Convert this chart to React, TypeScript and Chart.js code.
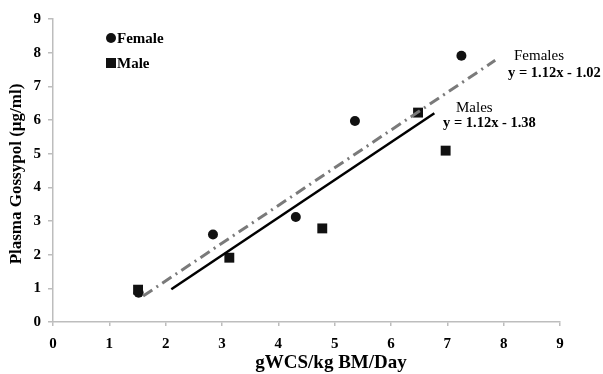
import React, { useEffect, useRef } from "react";
import { Chart, registerables } from "chart.js";

Chart.register(...registerables);

// Data
const femaleX = [1.52, 2.84, 4.31, 5.36, 7.25];
const femaleY = [0.87, 2.6, 3.12, 5.97, 7.91];
const maleX = [1.51, 3.13, 4.78, 6.48, 6.97];
const maleY = [0.96, 1.91, 2.78, 6.22, 5.09];

// Regression lines (from the chart's equations) and their x-extent
const femaleFit = [1.12, -1.02]; // slope, intercept
const maleFit = [1.12, -1.38];
const femaleFitRange = [1.6, 7.85];
const maleFitRange = [2.1, 6.77];

const xTicks = [0, 1, 2, 3, 4, 5, 6, 7, 8, 9];
const yTicks = [0, 1, 2, 3, 4, 5, 6, 7, 8, 9];

const SERIF = "'Liberation Serif', 'Times New Roman', serif";

const fitPoints = (fit: number[], range: number[]) =>
  range.map((x) => ({ x, y: fit[0] * x + fit[1] }));

const annotationPlugin = {
  id: "annotations",
  afterDraw(chart: any) {
    const { ctx } = chart;
    ctx.save();
    ctx.fillStyle = "#000";
    ctx.textBaseline = "middle";
    ctx.textAlign = "left";

    // Legend
    const legendItems = [
      { label: chart.data.datasets[3].label, style: "circle", y: 38 },
      { label: chart.data.datasets[2].label, style: "rect", y: 63 },
    ];
    legendItems.forEach((it) => {
      ctx.fillStyle = "#111";
      if (it.style === "circle") {
        ctx.beginPath();
        ctx.arc(111, it.y, 5, 0, Math.PI * 2);
        ctx.fill();
      } else {
        ctx.fillRect(106, it.y - 5, 10, 10);
      }
      ctx.fillStyle = "#000";
      ctx.font = `bold 15px ${SERIF}`;
      ctx.fillText(it.label, 117, it.y + 1);
    });

    // Equation labels
    ctx.font = `15px ${SERIF}`;
    ctx.fillText("Females", 514, 56);
    ctx.fillText("Males", 456, 108);
    ctx.font = `bold 14.5px ${SERIF}`;
    ctx.fillText(
      `y = ${femaleFit[0].toFixed(2)}x - ${Math.abs(femaleFit[1]).toFixed(2)}`,
      508,
      73
    );
    ctx.fillText(
      `y = ${maleFit[0].toFixed(2)}x - ${Math.abs(maleFit[1]).toFixed(2)}`,
      443,
      123
    );

    // Axis titles
    ctx.font = `bold 19px ${SERIF}`;
    ctx.textAlign = "center";
    ctx.fillText("gWCS/kg BM/Day", 331, 363);
    ctx.save();
    ctx.translate(17, 174);
    ctx.rotate(-Math.PI / 2);
    ctx.font = `bold 17px ${SERIF}`;
    ctx.fillText("Plasma Gossypol (µg/ml)", 0, 0);
    ctx.restore();

    ctx.restore();
  },
};

export default function App() {
  const canvasRef = useRef<HTMLCanvasElement | null>(null);

  useEffect(() => {
    document.body.style.margin = "0";
    const canvas = canvasRef.current;
    if (!canvas) return;

    const chart = new Chart(canvas, {
      type: "scatter",
      data: {
        datasets: [
          {
            type: "line",
            label: "Males fit",
            data: fitPoints(maleFit, maleFitRange),
            borderColor: "#000",
            borderWidth: 2.5,
            pointRadius: 0,
            fill: false,
          },
          {
            type: "line",
            label: "Females fit",
            data: fitPoints(femaleFit, femaleFitRange),
            borderColor: "#7a7a7a",
            borderWidth: 3,
            borderDash: [11, 5, 2, 5],
            pointRadius: 0,
            fill: false,
          },
          {
            label: "Male",
            data: maleX.map((x, i) => ({ x, y: maleY[i] })),
            pointStyle: "rect",
            pointRadius: 7,
            backgroundColor: "#111",
            borderColor: "#111",
            borderWidth: 0,
          },
          {
            label: "Female",
            data: femaleX.map((x, i) => ({ x, y: femaleY[i] })),
            pointStyle: "circle",
            pointRadius: 5,
            backgroundColor: "#111",
            borderColor: "#111",
            borderWidth: 0,
          },
        ],
      },
      options: {
        animation: false,
        responsive: false,
        maintainAspectRatio: false,
        layout: { padding: { top: 19, right: 43, left: 0, bottom: 0 } },
        plugins: {
          legend: { display: false },
          tooltip: { enabled: false },
        },
        scales: {
          x: {
            type: "linear",
            min: xTicks[0],
            max: xTicks[xTicks.length - 1],
            afterBuildTicks: (s: any) => {
              s.ticks = xTicks.map((v) => ({ value: v }));
            },
            afterFit: (s: any) => {
              s.height = 52;
            },
            grid: {
              drawOnChartArea: false,
              drawTicks: true,
              tickLength: 4,
              color: "#bdbdbd",
              lineWidth: 1.5,
            },
            border: { color: "#bdbdbd", width: 1.5 },
            ticks: {
              color: "#000",
              padding: 9,
              maxRotation: 0,
              font: { family: SERIF, size: 15, weight: "bold" },
            },
          },
          y: {
            type: "linear",
            min: yTicks[0],
            max: yTicks[yTicks.length - 1],
            afterBuildTicks: (s: any) => {
              s.ticks = yTicks.map((v) => ({ value: v }));
            },
            afterFit: (s: any) => {
              s.width = 53;
            },
            grid: {
              drawOnChartArea: false,
              drawTicks: true,
              tickLength: 5,
              color: "#bdbdbd",
              lineWidth: 1.5,
            },
            border: { color: "#bdbdbd", width: 1.5 },
            ticks: {
              color: "#000",
              padding: 7,
              font: { family: SERIF, size: 15, weight: "bold" },
            },
          },
        },
      },
      plugins: [annotationPlugin],
    } as any);

    return () => chart.destroy();
  }, []);

  return (
    <div style={{ width: 603, height: 374, position: "relative" }}>
      <canvas ref={canvasRef} width={603} height={374} style={{ display: "block" }} />
    </div>
  );
}
